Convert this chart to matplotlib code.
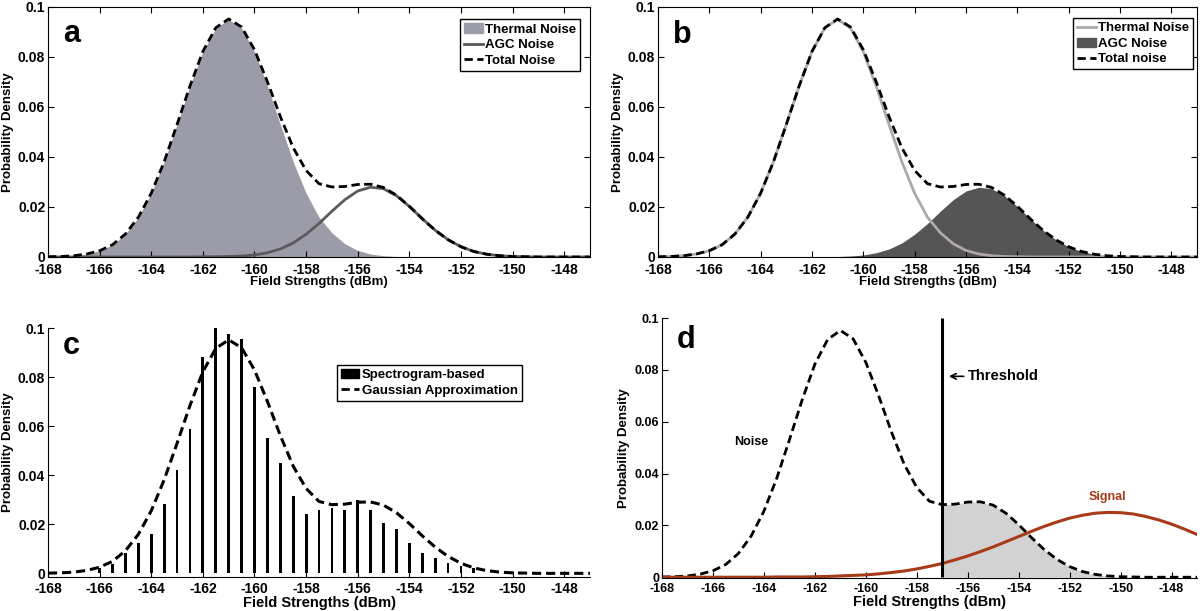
import numpy as np
import matplotlib
matplotlib.use("Agg")
import matplotlib.pyplot as plt
from matplotlib.patches import Patch
from matplotlib.lines import Line2D

plt.rcParams['font.family'] = ['Liberation Sans', 'DejaVu Sans']
plt.rcParams['font.weight'] = 'bold'

# field strength grid (dBm) that the curves were read on
field = np.arange(-168, -146.9, 0.5)

# thermal noise pdf
thermal = [0.0001, 0.0002, 0.0005, 0.0012, 0.0025, 0.0049, 0.0092, 0.0159, 0.0255, 0.0381,
           0.0530, 0.0684, 0.0821, 0.0916, 0.0950, 0.0916, 0.0821, 0.0684, 0.0530, 0.0381,
           0.0255, 0.0159, 0.0097, 0.0053, 0.0026, 0.0012, 0.0005, 0.0002, 0.0001, 0.0,
           0.0, 0.0, 0.0, 0.0, 0.0, 0.0, 0.0, 0.0, 0.0, 0.0,
           0.0, 0.0, 0.0]
# AGC noise pdf
agc = [0.0, 0.0, 0.0, 0.0, 0.0, 0.0, 0.0, 0.0, 0.0, 0.0,
       0.0, 0.0, 0.0001, 0.0001, 0.0002, 0.0004, 0.0008, 0.0017, 0.0032, 0.0056,
       0.0091, 0.0134, 0.0183, 0.0229, 0.0264, 0.0279, 0.0273, 0.0245, 0.0202, 0.0153,
       0.0107, 0.0069, 0.0041, 0.0022, 0.0011, 0.0005, 0.0002, 0.0001, 0.0, 0.0,
       0.0, 0.0, 0.0]
# total noise pdf
total = [0.0001, 0.0002, 0.0005, 0.0012, 0.0025, 0.0049, 0.0092, 0.0159, 0.0255, 0.0381,
         0.0530, 0.0684, 0.0822, 0.0917, 0.0952, 0.0920, 0.0829, 0.0701, 0.0562, 0.0437,
         0.0346, 0.0293, 0.0280, 0.0282, 0.0290, 0.0291, 0.0278, 0.0247, 0.0203, 0.0153,
         0.0107, 0.0069, 0.0041, 0.0022, 0.0011, 0.0005, 0.0002, 0.0001, 0.0, 0.0,
         0.0, 0.0, 0.0]
# signal pdf (panel d)
signal = [0.0, 0.0, 0.0, 0.0, 0.0, 0.0, 0.0, 0.0, 0.0, 0.0001,
          0.0001, 0.0001, 0.0002, 0.0003, 0.0005, 0.0007, 0.0009, 0.0013, 0.0018, 0.0024,
          0.0032, 0.0042, 0.0053, 0.0067, 0.0082, 0.0099, 0.0117, 0.0137, 0.0157, 0.0177,
          0.0196, 0.0213, 0.0228, 0.0239, 0.0247, 0.0250, 0.0249, 0.0244, 0.0234, 0.0221,
          0.0205, 0.0186, 0.0165]

# spectrogram-based histogram (panel c)
bin_centers = np.arange(-166, -151.4, 0.5)
bin_heights = [0.0020, 0.0040, 0.0084, 0.0122, 0.0160, 0.0283, 0.0422, 0.0587, 0.0880, 0.1002,
               0.0976, 0.0957, 0.0760, 0.0551, 0.0449, 0.0316, 0.0241, 0.0259, 0.0265, 0.0259,
               0.0297, 0.0259, 0.0207, 0.0181, 0.0125, 0.0084, 0.0061, 0.0041, 0.0029, 0.0022]

threshold = -157.0

xticks = np.arange(-168, -147, 2)
yticks = [0, 0.02, 0.04, 0.06, 0.08, 0.1]
ytick_labels = ['0', '0.02', '0.04', '0.06', '0.08', '0.1']

dash = (0, (3, 1.6))
thermal_fill = '#9c9ca8'
agc_line = '#5a5a5a'
thermal_line = '#b0a8a8'
agc_fill = '#555555'
signal_col = '#a83a1a'

fig = plt.figure(figsize=(12, 6.11), dpi=100)
ax_a = fig.add_axes([0.040, 0.5794, 0.4517, 0.4092])
ax_b = fig.add_axes([0.5483, 0.5794, 0.4492, 0.4092])
ax_c = fig.add_axes([0.040, 0.0556, 0.4517, 0.4075])
ax_d = fig.add_axes([0.5517, 0.0540, 0.4458, 0.4255])


def style(ax, box=True, ylim=(0, 0.1), size=10, xpad=3.5):
    ax.set_xlim(-168, -147)
    ax.set_ylim(*ylim)
    ax.set_xticks(xticks)
    ax.set_xticklabels([str(t) for t in xticks])
    ax.set_yticks(yticks)
    ax.set_yticklabels(ytick_labels)
    ax.tick_params(direction='in', length=4, width=0.8, labelsize=size, pad=2,
                   top=box, right=box)
    ax.tick_params(axis='x', pad=xpad)
    for lab in ax.get_xticklabels() + ax.get_yticklabels():
        lab.set_fontweight('bold')
    # the "0" label sits a touch above the axis in the original
    ax.get_yticklabels()[0].set_va('center_baseline')
    if not box:
        ax.spines['top'].set_visible(False)
        ax.spines['right'].set_visible(False)
    ax.set_ylabel('Probability Density', fontsize=9.5, fontweight='bold', labelpad=3)


def legend(ax, handles, labels, anchor, loc, size):
    ax.legend(handles, labels, loc=loc, bbox_to_anchor=anchor, borderaxespad=0,
              fancybox=False, edgecolor='black', framealpha=1,
              prop={'weight': 'bold', 'size': size}, handlelength=1.4,
              handletextpad=0.2, borderpad=0.3, labelspacing=0.25)


# panel a
ax = ax_a
ax.fill_between(field, thermal, color=thermal_fill, lw=0)
ax.plot(field, agc, color=agc_line, lw=2)
ax.plot(field, total, color='black', lw=2, linestyle=dash)
style(ax, xpad=4.5)
ax.set_xlabel('Field Strengths (dBm)', fontsize=9.5, fontweight='bold', labelpad=-1)
ax.text(0.028, 0.952, 'a', transform=ax.transAxes, fontsize=22, fontweight='bold', va='top')
handles = [Patch(color=thermal_fill), Line2D([], [], color=agc_line, lw=2),
           Line2D([], [], color='black', lw=2, linestyle=dash)]
legend(ax, handles, ['Thermal Noise', 'AGC Noise', 'Total Noise'], (0.982, 0.95),
       'upper right', 9.5)

# panel b
ax = ax_b
ax.fill_between(field, agc, color=agc_fill, lw=0)
ax.plot(field, thermal, color=thermal_line, lw=2)
ax.plot(field, total, color='black', lw=2, linestyle=dash)
style(ax, xpad=4.5)
ax.set_xlabel('Field Strengths (dBm)', fontsize=9.5, fontweight='bold', labelpad=-1)
ax.text(0.028, 0.948, 'b', transform=ax.transAxes, fontsize=22, fontweight='bold', va='top')
handles = [Line2D([], [], color=thermal_line, lw=2), Patch(color=agc_fill),
           Line2D([], [], color='black', lw=2, linestyle=dash)]
legend(ax, handles, ['Thermal Noise', 'AGC Noise', 'Total noise'], (0.993, 0.955),
       'upper right', 9.5)

# panel c
ax = ax_c
ax.bar(bin_centers, bin_heights, width=0.11, color='black')
ax.plot(field, total, color='black', lw=2.2, linestyle=dash)
style(ax, box=False, ylim=(-0.0015, 0.1))
ax.set_xlabel('Field Strengths (dBm)', fontsize=10.5, fontweight='bold', labelpad=0)
ax.text(0.028, 0.99, 'c', transform=ax.transAxes, fontsize=22, fontweight='bold', va='top')
handles = [Patch(color='black'), Line2D([], [], color='black', lw=2, linestyle=dash)]
legend(ax, handles, ['Spectrogram-based', 'Gaussian Approximation'], (0.533, 0.851),
       'upper left', 9.5)

# panel d
ax = ax_d
field_arr = np.array(field)
above = field_arr >= threshold
ax.fill_between(field_arr[above], np.array(total)[above], color='#d2d2d2', lw=0)
ax.plot(field, total, color='black', lw=2, linestyle=dash)
ax.plot(field, signal, color=signal_col, lw=2.2)
ax.vlines(threshold, 0, 0.1, color='black', lw=2.2)
style(ax, box=False, ylim=(-0.0003, 0.1), size=9)
ax.set_xlabel('Field Strengths (dBm)', fontsize=10.5, fontweight='bold', labelpad=0)
ax.text(0.028, 0.975, 'd', transform=ax.transAxes, fontsize=22, fontweight='bold', va='top')
ax.annotate('', xy=(-156.85, 0.0775), xytext=(-156.05, 0.0775),
            arrowprops=dict(arrowstyle='->', lw=1.2, color='black'))
ax.text(-156.0, 0.0775, 'Threshold', fontsize=10.5, fontweight='bold', va='center', ha='left')
ax.text(-164.5, 0.052, 'Noise', fontsize=9, fontweight='bold', va='center', ha='center')
ax.text(-150.5, 0.031, 'Signal', fontsize=9, fontweight='bold', va='center', ha='center',
        color=signal_col)

fig.savefig('out.png', dpi=100)
